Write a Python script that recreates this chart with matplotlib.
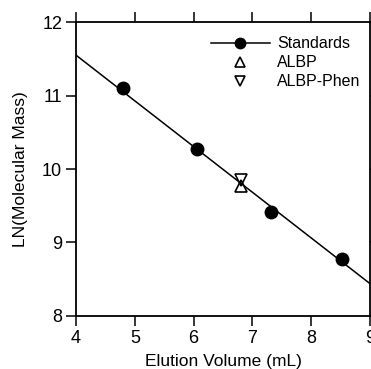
import matplotlib
matplotlib.use("Agg")
import matplotlib.pyplot as plt

plt.rcParams['font.family'] = ['Liberation Sans', 'DejaVu Sans']

# standards
std_vol = [4.8, 6.06, 7.31, 8.53]
std_lnmass = [11.10, 10.27, 9.42, 8.78]
# fitted line end points
fit_vol = [4.0, 9.0]
fit_lnmass = [11.55, 8.44]
# proteins
albp_vol = [6.8]
albp_lnmass = [9.775]
phen_vol = [6.8]
phen_lnmass = [9.845]

fig = plt.figure(figsize=(3.71, 3.69), dpi=100)
ax = fig.add_axes([0.205, 0.144, 0.792, 0.796])

ax.plot(fit_vol, fit_lnmass, color='black', lw=1.1, zorder=2)
ax.plot(std_vol, std_lnmass, 'o', color='black', ms=9, zorder=3)
ax.plot(albp_vol, albp_lnmass, '^', mfc='none', mec='black', mew=1.2, ms=8.5, ls='none', zorder=4)
ax.plot(phen_vol, phen_lnmass, 'v', mfc='none', mec='black', mew=1.2, ms=8.5, ls='none', zorder=4)

# legend built from proxy handles
h1, = ax.plot([], [], '-o', color='black', lw=1.1, ms=7.5)
h2, = ax.plot([], [], '^', mfc='white', mec='black', mew=1.2, ms=7, ls='none')
h3, = ax.plot([], [], 'v', mfc='white', mec='black', mew=1.2, ms=7, ls='none')
ax.legend([h1, h2, h3], ['Standards', 'ALBP', 'ALBP-Phen'], loc='upper right',
          frameon=False, fontsize=11.5, handlelength=3.7, handletextpad=0.45,
          labelspacing=0.25, bbox_to_anchor=(1.0, 0.985), borderaxespad=0.2)

ax.set_xlim(4, 9)
ax.set_ylim(8, 12)
ax.set_xticks([4, 5, 6, 7, 8, 9])
ax.set_yticks([8, 9, 10, 11, 12])
ax.tick_params(direction='out', length=7, width=1.1, labelsize=13, pad=3,
               top=True, right=True, labeltop=False, labelright=False)
for s in ax.spines.values():
    s.set_linewidth(1.3)

ax.set_xlabel('Elution Volume (mL)', fontsize=12.5, labelpad=5)
ax.set_ylabel('LN(Molecular Mass)', fontsize=12.5, labelpad=10)

fig.savefig('out.png', dpi=100)
